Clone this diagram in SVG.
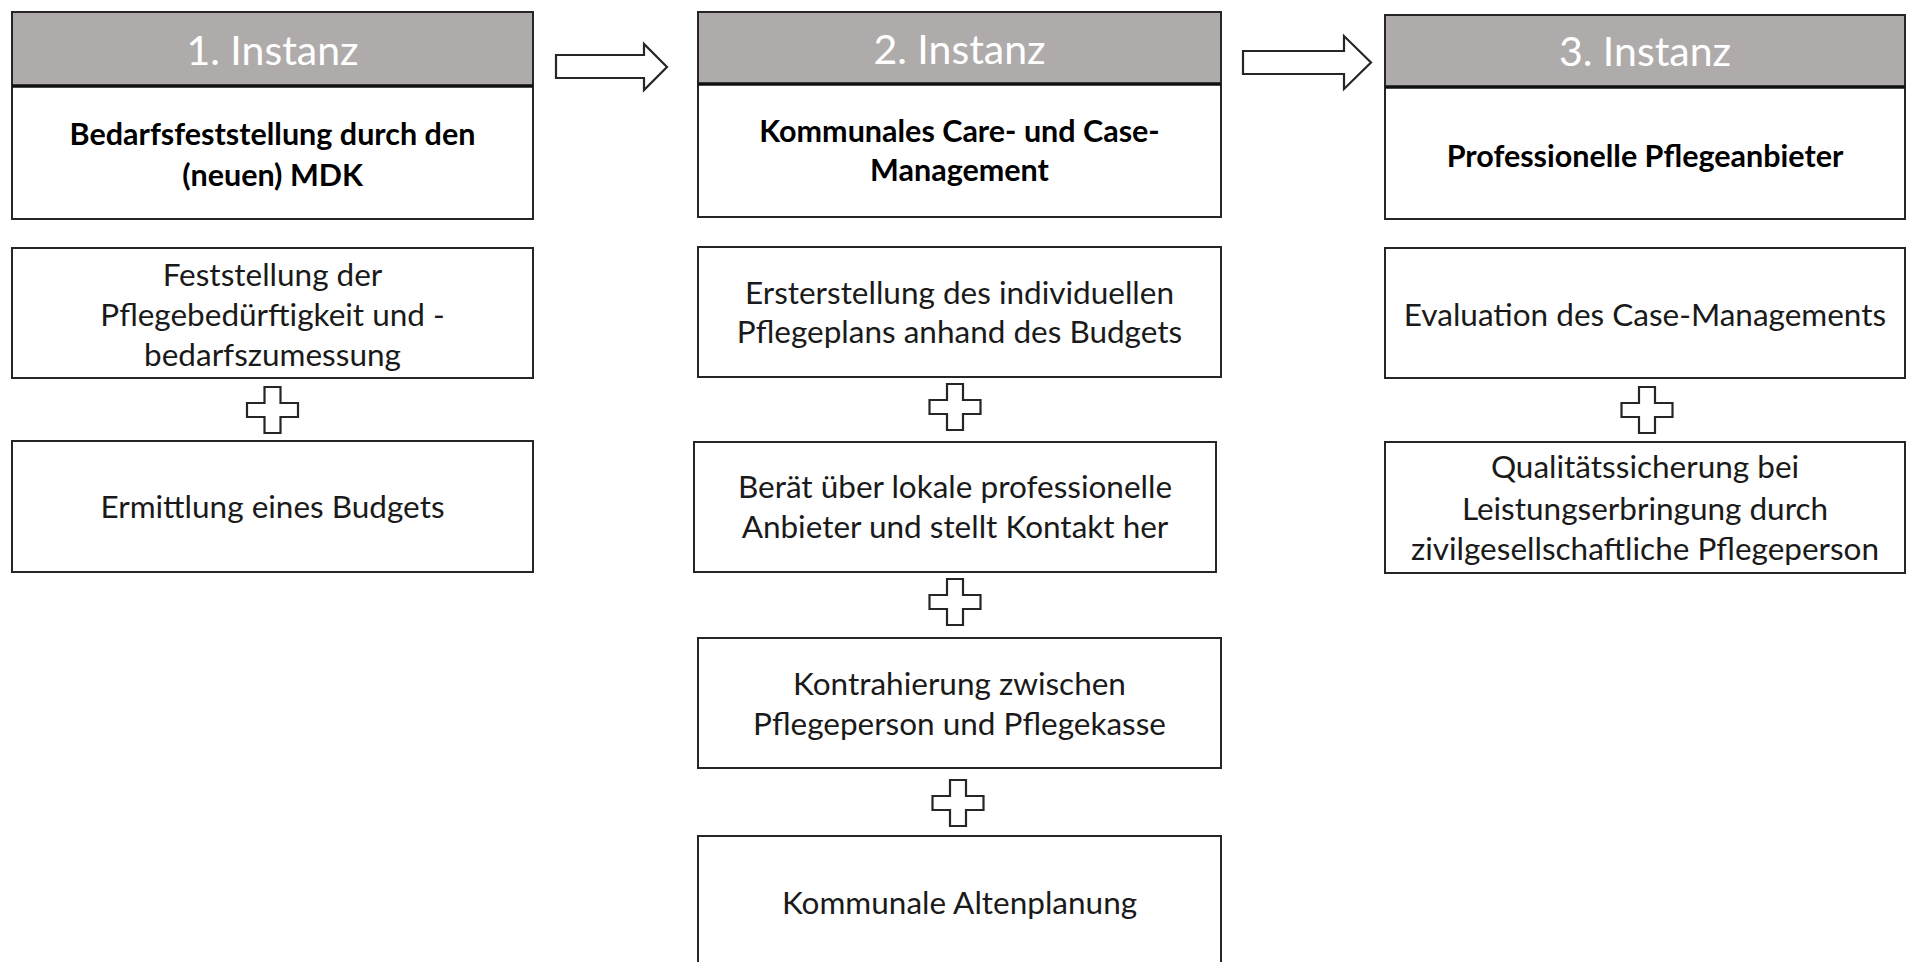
<svg xmlns="http://www.w3.org/2000/svg" width="1908" height="962" viewBox="0 0 1908 962">
  <defs>
    <style>
      .box { fill: #ffffff; stroke: #262626; stroke-width: 2; }
      .head { fill: #afabab; stroke: #262626; stroke-width: 2; }
      .divider { stroke: #111111; stroke-width: 3.5; }
      .htxt { font-family: Lato, "Open Sans", sans-serif; font-size: 41px; fill: #ffffff; text-anchor: middle; dominant-baseline: central; }
      .btxt { font-family: Lato, "Open Sans", sans-serif; font-size: 30.5px; font-weight: bold; fill: #000000; text-anchor: middle; dominant-baseline: central; }
      .txt { font-family: Lato, "Open Sans", sans-serif; font-size: 31.5px; fill: #1a1a1a; text-anchor: middle; dominant-baseline: central; }
      .shape { fill: #ffffff; stroke: #262626; stroke-width: 2.2; stroke-linejoin: miter; }
    </style>
    <!-- plus sign joining the steps of a column -->
    <path id="plus" d="M -8 -23 H 8 V -7 H 25.5 V 7 H 8 V 23 H -8 V 7 H -25.5 V -7 H -8 Z"/>
  </defs>

  <rect width="1908" height="962" fill="#ffffff"/>

  <!-- Column 1 -->
  <g id="instanz1">
    <rect class="head" x="12" y="12" width="521" height="74"/>
    <rect class="box" x="12" y="86" width="521" height="133"/>
    <line class="divider" x1="12" y1="86" x2="533" y2="86"/>
    <text class="htxt" x="272.5" y="49">1. Instanz</text>
    <text class="btxt" x="272.5" y="133">Bedarfsfeststellung durch den</text>
    <text class="btxt" x="272.5" y="174">(neuen) MDK</text>
  </g>
  <g id="feststellung">
    <rect class="box" x="12" y="248" width="521" height="130"/>
    <text class="txt" x="272.5" y="274">Feststellung der</text>
    <text class="txt" x="272.5" y="314">Pflegebedürftigkeit und -</text>
    <text class="txt" x="272.5" y="354">bedarfszumessung</text>
  </g>
  <g id="budget">
    <rect class="box" x="12" y="441" width="521" height="131"/>
    <text class="txt" x="272.5" y="506">Ermittlung eines Budgets</text>
  </g>

  <!-- Column 2 -->
  <g id="instanz2">
    <rect class="head" x="698" y="12" width="523" height="72"/>
    <rect class="box" x="698" y="84" width="523" height="133"/>
    <line class="divider" x1="698" y1="84" x2="1221" y2="84"/>
    <text class="htxt" x="959.5" y="48">2. Instanz</text>
    <text class="btxt" x="959.5" y="130">Kommunales Care- und Case-</text>
    <text class="btxt" x="959.5" y="169">Management</text>
  </g>
  <g id="pflegeplan">
    <rect class="box" x="698" y="247" width="523" height="130"/>
    <text class="txt" x="959.5" y="292">Ersterstellung des individuellen</text>
    <text class="txt" x="959.5" y="331">Pflegeplans anhand des Budgets</text>
  </g>
  <g id="beratung">
    <rect class="box" x="694" y="442" width="522" height="130"/>
    <text class="txt" x="955" y="486">Berät über lokale professionelle</text>
    <text class="txt" x="955" y="526">Anbieter und stellt Kontakt her</text>
  </g>
  <g id="kontrahierung">
    <rect class="box" x="698" y="638" width="523" height="130"/>
    <text class="txt" x="959.5" y="683">Kontrahierung zwischen</text>
    <text class="txt" x="959.5" y="723">Pflegeperson und Pflegekasse</text>
  </g>
  <g id="altenplanung">
    <rect class="box" x="698" y="836" width="523" height="140"/>
    <text class="txt" x="959.5" y="902">Kommunale Altenplanung</text>
  </g>

  <!-- Column 3 -->
  <g id="instanz3">
    <rect class="head" x="1385" y="15" width="520" height="72"/>
    <rect class="box" x="1385" y="87" width="520" height="132"/>
    <line class="divider" x1="1385" y1="87" x2="1905" y2="87"/>
    <text class="htxt" x="1645" y="50">3. Instanz</text>
    <text class="btxt" x="1645" y="155">Professionelle Pflegeanbieter</text>
  </g>
  <g id="evaluation">
    <rect class="box" x="1385" y="248" width="520" height="130"/>
    <text class="txt" x="1645" y="314">Evaluation des Case-Managements</text>
  </g>
  <g id="qualitaet">
    <rect class="box" x="1385" y="442" width="520" height="131"/>
    <text class="txt" x="1645" y="466">Qualitätssicherung bei</text>
    <text class="txt" x="1645" y="508">Leistungserbringung durch</text>
    <text class="txt" x="1645" y="548">zivilgesellschaftliche Pflegeperson</text>
  </g>

  <!-- Connectors: block arrows between the instances, plus signs within a column -->
  <g id="connectors">
    <path class="shape" d="M 556 55 H 644 V 44 L 667 67 L 644 90 V 78 H 556 Z"/>
    <path class="shape" d="M 1243 51 H 1344 V 36 L 1371 62.5 L 1344 89 V 74 H 1243 Z"/>
    <use href="#plus" class="shape" x="272.5" y="410"/>
    <use href="#plus" class="shape" x="955" y="407"/>
    <use href="#plus" class="shape" x="955" y="602"/>
    <use href="#plus" class="shape" x="958" y="803"/>
    <use href="#plus" class="shape" x="1647" y="410"/>
  </g>
</svg>
